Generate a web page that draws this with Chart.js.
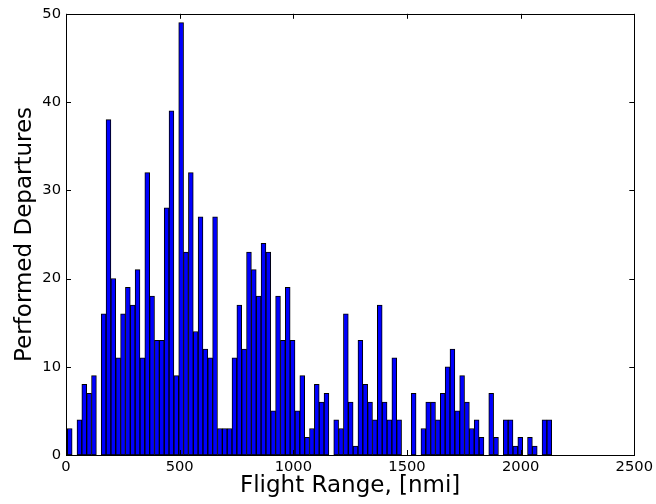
<!DOCTYPE html>
<html>
<head>
<meta charset="utf-8">
<title>Performed Departures</title>
<script src="https://cdn.jsdelivr.net/npm/chart.js@4/dist/chart.umd.min.js"></script>
<style>
    html, body { margin: 0; padding: 0; background: #ffffff; }
    #wrap { width: 656px; height: 504px; }
</style>
</head>
<body>
<div id="wrap"><canvas id="rangeChart" width="656" height="504"></canvas></div>
<script>
// ============================================
// DATA
// ============================================

// bin centres, nmi
const binCenters = [
    16.4, 37.7, 59.0, 80.3, 101.6, 123.0, 144.3, 165.6, 186.9, 208.2,
    229.5, 250.8, 272.1, 293.4, 314.7, 336.1, 357.4, 378.7, 400.0, 421.3,
    442.6, 463.9, 485.2, 506.5, 527.8, 549.2, 570.5, 591.8, 613.1, 634.4,
    655.7, 677.0, 698.3, 719.6, 740.9, 762.3, 783.6, 804.9, 826.2, 847.5,
    868.8, 890.1, 911.4, 932.7, 954.0, 975.4, 996.7, 1018.0, 1039.3, 1060.6,
    1081.9, 1103.2, 1124.5, 1145.8, 1167.1, 1188.5, 1209.8, 1231.1, 1252.4, 1273.7,
    1295.0, 1316.3, 1337.6, 1358.9, 1380.2, 1401.6, 1422.9, 1444.2, 1465.5, 1486.8,
    1508.1, 1529.4, 1550.7, 1572.0, 1593.3, 1614.7, 1636.0, 1657.3, 1678.6, 1699.9,
    1721.2, 1742.5, 1763.8, 1785.1, 1806.4, 1827.8, 1849.1, 1870.4, 1891.7, 1913.0,
    1934.3, 1955.6, 1976.9, 1998.2, 2019.5, 2040.9, 2062.2, 2083.5, 2104.8, 2126.1
];

// performed departures per bin
const departures = [
    3, 0, 4, 8, 7, 9, 0, 16, 38, 20,
    11, 16, 19, 17, 21, 11, 32, 18, 13, 13,
    28, 39, 9, 49, 23, 32, 14, 27, 12, 11,
    27, 3, 3, 3, 11, 17, 12, 23, 21, 18,
    24, 23, 5, 18, 13, 19, 13, 5, 9, 2,
    3, 8, 6, 7, 0, 4, 3, 16, 6, 1,
    13, 8, 6, 4, 17, 6, 4, 11, 4, 0,
    0, 7, 0, 3, 6, 6, 4, 7, 10, 12,
    5, 9, 6, 3, 4, 2, 0, 7, 2, 0,
    4, 4, 1, 2, 0, 2, 1, 0, 4, 4
];

const xTicks = [0, 500, 1000, 1500, 2000, 2500];
const yTicks = [0, 10, 20, 30, 40, 50];

const xTitle = 'Flight Range, [nmi]';
const yTitle = 'Performed Departures';

// ============================================
// FRAME + INWARD TICKS (matplotlib look)
// ============================================
const framePlugin = {
    id: 'frame',
    afterDatasetsDraw(chart) {
        const { ctx, chartArea: a, scales } = chart;
        const len = 5;
        ctx.save();
        ctx.strokeStyle = '#000000';
        ctx.lineWidth = 1;

        xTicks.forEach(v => {
            const px = Math.round(scales.x.getPixelForValue(v)) + 0.5;
            ctx.beginPath();
            ctx.moveTo(px, a.bottom); ctx.lineTo(px, a.bottom - len);
            ctx.moveTo(px, a.top); ctx.lineTo(px, a.top + len);
            ctx.stroke();
        });
        yTicks.forEach(v => {
            const py = Math.round(scales.y.getPixelForValue(v)) + 0.5;
            ctx.beginPath();
            ctx.moveTo(a.left, py); ctx.lineTo(a.left + len, py);
            ctx.moveTo(a.right, py); ctx.lineTo(a.right - len, py);
            ctx.stroke();
        });

        ctx.strokeRect(Math.round(a.left) + 0.5, Math.round(a.top) + 0.5,
            Math.round(a.right - a.left), Math.round(a.bottom - a.top));
        ctx.restore();
    }
};

// ============================================
// CHART
// ============================================
Chart.defaults.font.family = "'DejaVu Sans', sans-serif";
Chart.defaults.color = '#000000';

const ctx = document.getElementById('rangeChart').getContext('2d');

new Chart(ctx, {
    type: 'bar',
    data: {
        datasets: [{
            label: 'Departures',
            data: binCenters.map((c, i) => ({ x: c, y: departures[i] })),
            backgroundColor: '#0000ff',
            borderColor: '#000000',
            borderWidth: 1,
            borderSkipped: false,
            barPercentage: 1,
            categoryPercentage: 1,
        }]
    },
    options: {
        responsive: false,
        animation: false,
        layout: { padding: { top: 13, right: 20, left: 0, bottom: 0 } },
        plugins: {
            legend: { display: false },
            tooltip: { enabled: false }
        },
        scales: {
            x: {
                type: 'linear',
                min: 0,
                max: 2500,
                offset: false,
                grid: { display: false, drawTicks: false },
                border: { display: false },
                ticks: {
                    stepSize: 500,
                    padding: 3,
                    maxRotation: 0,
                    font: { size: 14.7 },
                    callback: v => v
                },
                title: {
                    display: true,
                    text: xTitle,
                    font: { size: 23 },
                    padding: { top: 0, bottom: 4 }
                },
                afterFit: s => { s.height = 49; }
            },
            y: {
                min: 0,
                max: 50,
                grid: { display: false, drawTicks: false },
                border: { display: false },
                ticks: {
                    stepSize: 10,
                    padding: 5,
                    font: { size: 14.7 }
                },
                title: {
                    display: true,
                    text: yTitle,
                    font: { size: 23 },
                    padding: { top: 11, bottom: 0 }
                },
                afterFit: s => { s.width = 66; }
            }
        }
    },
    plugins: [framePlugin]
});
</script>
</body>
</html>
